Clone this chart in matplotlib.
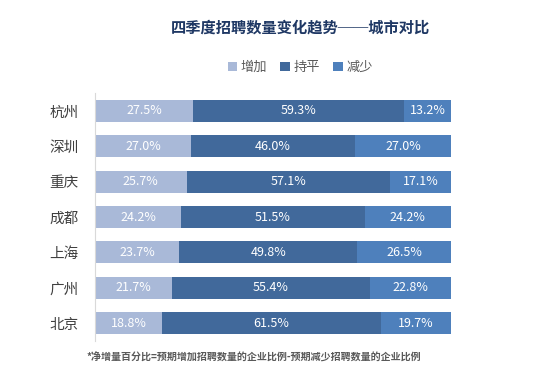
import matplotlib
matplotlib.use("Agg")
import matplotlib.pyplot as plt
import numpy as np

plt.rcParams['font.family'] = ['Noto Sans CJK SC', 'DejaVu Sans']

cities = ["杭州", "深圳", "重庆", "成都", "上海", "广州", "北京"]
increase = [27.5, 27.0, 25.7, 24.2, 23.7, 21.7, 18.8]
flat = [59.3, 46.0, 57.1, 51.5, 49.8, 55.4, 61.5]
decrease = [13.2, 27.0, 17.1, 24.2, 26.5, 22.8, 19.7]
series_names = ["增加", "持平", "减少"]
colors = ["#A9B9D8", "#41699B", "#4E80BC"]

fig = plt.figure(figsize=(5.54, 3.80), dpi=100)
ax = fig.add_axes([0.1715, 0.1034, 0.643, 0.651])

y = np.arange(len(cities))[::-1]
left = np.zeros(len(cities))
for vals, name, c in zip([increase, flat, decrease], series_names, colors):
    vals = np.array(vals)
    ax.barh(y, vals, left=left, height=0.63, color=c, label=name)
    for yi, l, v in zip(y, left, vals):
        ax.text(l + v / 2, yi, f"{v:.1f}%", ha="center", va="center",
                color="white", fontsize=9)
    left = left + vals

ax.set_xlim(0, left.max())
ax.set_ylim(-0.5, len(cities) - 0.5)
ax.set_yticks(y)
ax.set_yticklabels(cities, fontsize=10.5, color="#404040")
ax.tick_params(axis="y", length=0, pad=12)
ax.set_xticks([])
for s in ["top", "right", "bottom"]:
    ax.spines[s].set_visible(False)
ax.spines["left"].set_color("#D9D9D9")

fig.text(0.542, 0.928, "四季度招聘数量变化趋势──城市对比", ha="center", va="center",
         fontsize=11, fontweight="bold", color="#1F3864")

handles, labels = ax.get_legend_handles_labels()
fig.legend(handles, labels, loc="center", bbox_to_anchor=(0.542, 0.823), ncol=3,
           frameon=False, fontsize=9.5, handlelength=0.7, handleheight=0.7,
           handletextpad=0.3, columnspacing=1.0, labelcolor="#595959")

fig.text(0.458, 0.06, "*净增量百分比=预期增加招聘数量的企业比例-预期减少招聘数量的企业比例",
         ha="center", va="center", fontsize=7.2, fontweight="bold", color="#595959")

fig.savefig("out.png", dpi=100)
